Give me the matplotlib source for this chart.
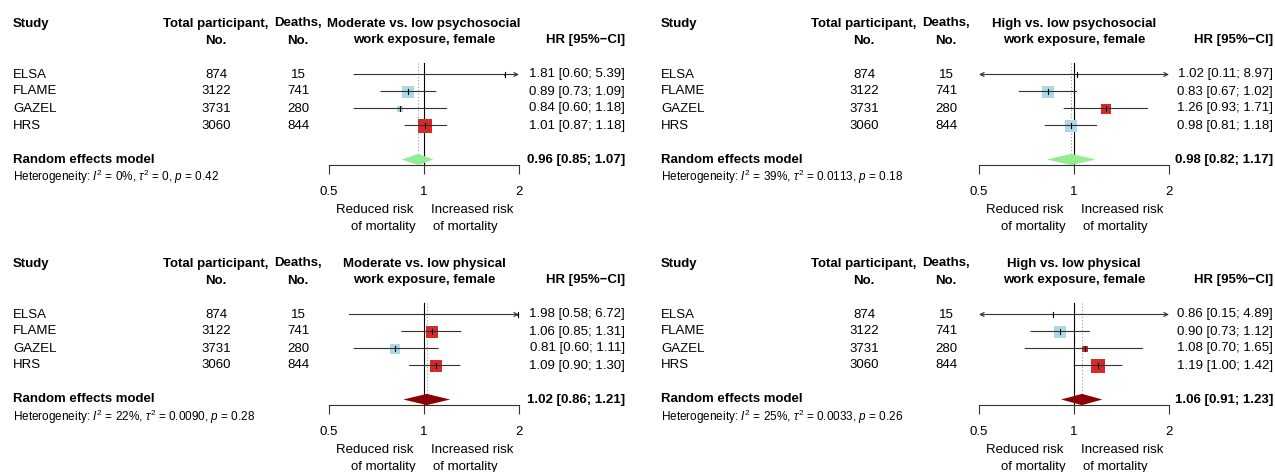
import matplotlib
matplotlib.use("Agg")
import matplotlib.pyplot as plt
import matplotlib.transforms as mtransforms
from matplotlib.ticker import NullLocator, FixedLocator
from matplotlib import font_manager

# ---------------- data ----------------
studies = ["ELSA", "FLAME", "GAZEL", "HRS"]
participants = [874, 3122, 3731, 3060]
deaths = [15, 741, 280, 844]

titles = [
    ("Moderate vs. low psychosocial", "work exposure, female"),
    ("High vs. low psychosocial", "work exposure, female"),
    ("Moderate vs. low physical", "work exposure, female"),
    ("High vs. low physical", "work exposure, female"),
]

hr_mod_psy = [1.81, 0.89, 0.84, 1.01]
lo_mod_psy = [0.60, 0.73, 0.60, 0.87]
hi_mod_psy = [5.39, 1.09, 1.18, 1.18]
w_mod_psy = [1.1, 32.2, 11.3, 55.5]

hr_high_psy = [1.02, 0.83, 1.26, 0.98]
lo_high_psy = [0.11, 0.67, 0.93, 0.81]
hi_high_psy = [8.97, 1.02, 1.71, 1.18]
w_high_psy = [0.6, 36.0, 23.0, 40.0]

hr_mod_phy = [1.98, 1.06, 0.81, 1.09]
lo_mod_phy = [0.58, 0.85, 0.60, 0.90]
hi_mod_phy = [6.72, 1.31, 1.11, 1.30]
w_mod_phy = [1.8, 34.8, 21.9, 41.4]

hr_high_phy = [0.86, 0.90, 1.08, 1.19]
lo_high_phy = [0.15, 0.73, 0.70, 1.00]
hi_high_phy = [4.89, 1.12, 1.65, 1.42]
w_high_phy = [0.7, 37.6, 11.2, 50.5]

re_est = [0.96, 0.98, 1.02, 1.06]
re_lo = [0.85, 0.82, 0.86, 0.91]
re_hi = [1.07, 1.17, 1.21, 1.23]
i2 = ["0%", "39%", "22%", "25%"]
tau2 = ["0", "0.0113", "0.0090", "0.0033"]
pval = ["0.42", "0.18", "0.28", "0.26"]

panels_hr = [hr_mod_psy, hr_high_psy, hr_mod_phy, hr_high_phy]
panels_lo = [lo_mod_psy, lo_high_psy, lo_mod_phy, lo_high_phy]
panels_hi = [hi_mod_psy, hi_high_psy, hi_mod_phy, hi_high_phy]
panels_w = [w_mod_psy, w_high_psy, w_mod_phy, w_high_phy]

# ---------------- fonts ----------------
names = {f.name for f in font_manager.fontManager.ttflist}
FAM = "Liberation Sans Narrow" if "Liberation Sans Narrow" in names else "Liberation Sans"
plt.rcParams["font.family"] = [FAM, "DejaVu Sans"]
plt.rcParams["mathtext.fontset"] = "custom"
plt.rcParams["mathtext.rm"] = FAM
plt.rcParams["mathtext.it"] = FAM + ":italic"
plt.rcParams["mathtext.bf"] = FAM + ":bold"
plt.rcParams["mathtext.fallback"] = "stixsans"

FS = 9.5
FS_HET = 8.5

BLUE = "#add8e6"
RED = "#d42a2a"
GREEN = "#90ee90"
DARKRED = "#8b0000"
LINE = "#333333"

# ---------------- layout (pixels) ----------------
W, H = 1275, 472
fig = plt.figure(figsize=(W / 100, H / 100), dpi=100)

ax_offsets = [(0, 0), (650, 0), (0, 240), (650, 240)]
txt_dx = [0, 648, 0, 648]
STUDY_X, PART_X, DEATH_X = 13, 216, 298
AX_L, AX_R, HR_X = 329, 519, 625
ROW0, STEP, AXIS_Y = 23.5, 17, 165
R_BOTTOM = (AXIS_Y - ROW0) / STEP

for p in range(4):
    ox, oy = ax_offsets[p]
    tdx = txt_dx[p]
    ax = fig.add_axes([(AX_L + ox) / W, 1 - (AXIS_Y + oy) / H,
                       (AX_R - AX_L) / W, (AXIS_Y - ROW0 + STEP / 2) / H])
    ax.set_xscale("log")
    ax.set_xlim(0.5, 2)
    ax.set_ylim(R_BOTTOM, -0.5)
    for s in ["top", "right", "left"]:
        ax.spines[s].set_visible(False)
    ax.spines["bottom"].set_linewidth(0.8)
    ax.spines["bottom"].set_color(LINE)
    ax.set_yticks([])
    ax.xaxis.set_major_locator(FixedLocator([0.5, 1, 2]))
    ax.xaxis.set_minor_locator(NullLocator())
    ax.set_xticklabels(["0.5", "1", "2"])
    ax.tick_params(axis="x", direction="out", length=6.5, width=0.8,
                   color=LINE, labelsize=FS, pad=8.5)
    ax.patch.set_visible(False)

    tr = mtransforms.blended_transform_factory(fig.transFigure, ax.transData)

    def px(x):
        return (x + tdx) / W

    # header
    ax.text(px(STUDY_X), 0, "Study", transform=tr, fontsize=FS, fontweight="bold",
            ha="left", va="center")
    ax.text(px(PART_X), 0, "Total participant,", transform=tr, fontsize=FS,
            fontweight="bold", ha="center", va="center")
    ax.text(px(PART_X), 1, "No.", transform=tr, fontsize=FS, fontweight="bold",
            ha="center", va="center")
    ax.text(px(DEATH_X), 0, "Deaths,", transform=tr, fontsize=FS,
            fontweight="bold", ha="center", va="center")
    ax.text(px(DEATH_X), 1, "No.", transform=tr, fontsize=FS, fontweight="bold",
            ha="center", va="center")
    ax.text(1, 0, titles[p][0], fontsize=FS, fontweight="bold", ha="center", va="center")
    ax.text(1, 1, titles[p][1], fontsize=FS, fontweight="bold", ha="center", va="center")
    ax.text(px(HR_X), 1, "HR [95%\u2212CI]", transform=tr, fontsize=FS,
            fontweight="bold", ha="right", va="center")

    hrs, los, his, ws = panels_hr[p], panels_lo[p], panels_hi[p], panels_w[p]
    for i, name in enumerate(studies):
        r = 3 + i
        ax.text(px(STUDY_X), r, name, transform=tr, fontsize=FS, ha="left", va="center")
        ax.text(px(PART_X), r, str(participants[i]), transform=tr, fontsize=FS,
                ha="center", va="center")
        ax.text(px(DEATH_X), r, str(deaths[i]), transform=tr, fontsize=FS,
                ha="center", va="center")
        ax.text(px(HR_X), r, f"{hrs[i]:.2f} [{los[i]:.2f}; {his[i]:.2f}]",
                transform=tr, fontsize=FS, ha="right", va="center")
        # square
        side = 1.95 * ws[i] ** 0.5 * 0.72
        col = BLUE if hrs[i] < 1 else RED
        ax.plot([hrs[i]], [r], marker="s", markersize=side, color=col,
                markeredgewidth=0, linestyle="none", zorder=2, clip_on=False)
        # CI line
        lo_c, hi_c = max(los[i], 0.5), min(his[i], 2)
        left_cut, right_cut = los[i] < 0.5, his[i] > 2
        if left_cut and right_cut:
            style = "<->"
        elif right_cut:
            style = "->"
        elif left_cut:
            style = "<-"
        else:
            style = "-"
        ax.annotate("", xy=(hi_c, r), xytext=(lo_c, r),
                    arrowprops=dict(arrowstyle=style, color=LINE, lw=0.8,
                                    shrinkA=0, shrinkB=0, mutation_scale=7),
                    zorder=3, annotation_clip=False)
        ax.plot([hrs[i], hrs[i]], [r - 0.13, r + 0.13], color="black", lw=0.8,
                zorder=4, clip_on=False)

    # reference lines
    ax.plot([1, 1], [2.3, R_BOTTOM], color="black", lw=0.8, zorder=1, clip_on=False)
    ax.plot([re_est[p], re_est[p]], [2.3, 7.7], color="#999999", lw=0.8,
            linestyle=(0, (1, 2)), zorder=1)

    # random effects
    dcol = GREEN if re_est[p] < 1 else DARKRED
    ax.fill([re_lo[p], re_est[p], re_hi[p], re_est[p]],
            [8, 8 - 0.33, 8, 8 + 0.33], color=dcol, lw=0, zorder=3, clip_on=False)
    ax.text(px(STUDY_X), 8, "Random effects model", transform=tr, fontsize=FS,
            fontweight="bold", ha="left", va="center")
    ax.text(px(HR_X), 8, f"{re_est[p]:.2f} [{re_lo[p]:.2f}; {re_hi[p]:.2f}]",
            transform=tr, fontsize=FS, fontweight="bold", ha="right", va="center")
    ax.text(px(STUDY_X), 9,
            "Heterogeneity: $I^2$ = " + i2[p] + r", $\tau^2$ = " + tau2[p]
            + ", $p$ = " + pval[p],
            transform=tr, fontsize=FS_HET, ha="left", va="center")

    # direction labels (x relative to the axis pixels)
    lx = lambda x: (x + ox) / W
    ax.text(lx(413), 10.97, "Reduced risk", transform=tr, fontsize=FS,
            ha="right", va="center")
    ax.text(lx(416), 11.97, "of mortality", transform=tr, fontsize=FS,
            ha="right", va="center")
    ax.text(lx(431), 10.97, "Increased risk", transform=tr, fontsize=FS,
            ha="left", va="center")
    ax.text(lx(433), 11.97, "of mortality", transform=tr, fontsize=FS,
            ha="left", va="center")

fig.savefig("out.png", dpi=100)
